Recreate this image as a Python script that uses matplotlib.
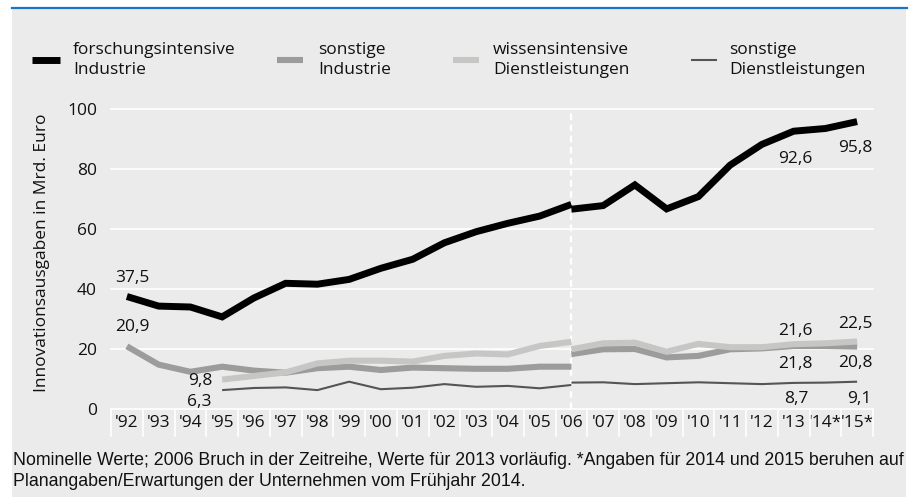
import matplotlib
matplotlib.use("Agg")
import matplotlib.pyplot as plt
import matplotlib.transforms as mtransforms
from matplotlib.lines import Line2D
from matplotlib.patches import Rectangle
from matplotlib import font_manager

# --- data (Mrd. Euro), series break in 2006 ---
years_old = list(range(1992, 2007))
years_new = list(range(2006, 2016))
years_dl_old = list(range(1995, 2007))

forsch_old = [37.5, 34.3, 34.0, 30.7, 37.0, 41.9, 41.6, 43.2, 46.9, 49.9, 55.4, 59.1, 61.9, 64.3, 68.2]
forsch_new = [66.6, 67.8, 74.7, 66.7, 70.8, 81.3, 88.2, 92.6, 93.5, 95.8]
sonst_ind_old = [20.9, 14.8, 12.4, 14.1, 12.8, 12.1, 13.6, 14.1, 13.0, 13.8, 13.6, 13.4, 13.4, 14.1, 14.1]
sonst_ind_new = [18.3, 19.9, 20.0, 17.2, 17.7, 19.9, 20.2, 21.0, 21.0, 20.8]
wiss_old = [9.8, 11.0, 12.2, 15.2, 16.1, 16.1, 15.8, 17.7, 18.5, 18.2, 21.0, 22.4]
wiss_new = [19.9, 21.9, 22.1, 19.1, 21.7, 20.6, 20.6, 21.6, 21.9, 22.5]
sonst_dl_old = [6.3, 7.0, 7.2, 6.3, 9.1, 6.6, 7.1, 8.3, 7.4, 7.7, 6.9, 8.0]
sonst_dl_new = [8.8, 8.9, 8.3, 8.6, 8.9, 8.6, 8.3, 8.7, 8.8, 9.1]

tick_years = list(range(1992, 2016))
tick_labels = ["'%02d" % (y % 100) for y in range(1992, 2014)] + ["'14*", "'15*"]

legend_labels = ["forschungsintensive\nIndustrie", "sonstige\nIndustrie",
                 "wissensintensive\nDienstleistungen", "sonstige\nDienstleistungen"]
colors = ["#000000", "#9c9c9c", "#c6c7c5", "#555555"]
widths = [5.0, 4.4, 4.4, 1.5]

footnote = ("Nominelle Werte; 2006 Bruch in der Zeitreihe, Werte für 2013 vorläufig. "
            "*Angaben für 2014 und 2015 beruhen auf\n"
            "Planangaben/Erwartungen der Unternehmen vom Frühjahr 2014.")

installed = {f.name for f in font_manager.fontManager.ttflist}
main_font = "Open Sans" if "Open Sans" in installed else "DejaVu Sans"
narrow_font = "Liberation Sans Narrow" if "Liberation Sans Narrow" in installed else "Liberation Sans"
plt.rcParams['font.family'] = [main_font, 'DejaVu Sans']

bg = "#ebebeb"
W, H = 909, 500
fig = plt.figure(figsize=(W / 100, H / 100), dpi=100)
fig.patch.set_facecolor("white")
fig.add_artist(Rectangle((12 / W, 3 / H), (906 - 12) / W, (492 - 3) / H,
                         transform=fig.transFigure, facecolor=bg, edgecolor="none", zorder=-10))
fig.add_artist(Line2D([12 / W, 907 / W], [1 - 7.5 / H, 1 - 7.5 / H], transform=fig.transFigure,
                      color="#1b76c2", lw=1.6))

ax = fig.add_axes([111 / W, 1 - 409 / H, (873 - 111) / W, 300 / H])
ax.set_facecolor("none")
for s in ax.spines.values():
    s.set_visible(False)
ax.set_xlim(1991.5, 2015.5)
ax.set_ylim(0, 100)

# grid
for yv in [0, 20, 40, 60, 80, 100]:
    ax.axhline(yv, color="white", lw=1.2, zorder=1, clip_on=False)
ax.axvline(2006, color="white", lw=1.6, ls=(0, (3, 2)), zorder=1)

# label cell separators below axis
trans = mtransforms.blended_transform_factory(ax.transData, ax.transAxes)
for y in tick_years + [tick_years[-1] + 1]:
    ax.plot([y - 0.5, y - 0.5], [0, -0.09], transform=trans, color="white", lw=1.2, clip_on=False)

series = [
    (years_old, forsch_old, years_new, forsch_new),
    (years_old, sonst_ind_old, years_new, sonst_ind_new),
    (years_dl_old, wiss_old, years_new, wiss_new),
    (years_dl_old, sonst_dl_old, years_new, sonst_dl_new),
]
for i, (xo, yo, xn, yn) in enumerate(series):
    for xx, yy in [(xo, yo), (xn, yn)]:
        ax.plot(xx, yy, color=colors[i], lw=widths[i], solid_joinstyle="miter",
                solid_capstyle="butt", zorder=3 + (i == 0), clip_on=False)

# value labels
fs = 12.5
def lab(x, y, text, dx, dy):
    ax.annotate(text, (x, y), xytext=(dx * 0.72, dy * 0.72), textcoords="offset points",
                ha="center", va="center", fontsize=fs, color="#111111", zorder=6)

lab(1992, forsch_old[0], "37,5", 5, 18)
lab(1992, sonst_ind_old[0], "20,9", 5, 19)
lab(1995, wiss_old[0], "9,8", -22, -1)
lab(1995, sonst_dl_old[0], "6,3", -23, -12)
lab(2013, forsch_new[7], "92,6", 2, -28)
lab(2015, forsch_new[9], "95,8", -2, -26)
lab(2013, wiss_new[7], "21,6", 2, 13)
lab(2015, wiss_new[9], "22,5", -2, 17)
lab(2013, sonst_ind_new[7], "21,8", 2, -18)
lab(2015, sonst_ind_new[9], "20,8", -2, -16)
lab(2013, sonst_dl_new[7], "8,7", 3, -16)
lab(2015, sonst_dl_new[9], "9,1", 2, -17)

ax.set_xticks(tick_years)
ax.set_xticklabels(tick_labels, fontsize=fs, color="#111111")
ax.set_yticks([0, 20, 40, 60, 80, 100])
ax.set_yticklabels(["0", "20", "40", "60", "80", "100"], fontsize=fs, color="#111111")
ax.tick_params(axis="both", length=0)
ax.tick_params(axis="x", pad=4)
ax.tick_params(axis="y", pad=10)

fig.text(42 / W, 1 - 253 / H, "Innovationsausgaben in Mrd. Euro", rotation=90,
         ha="center", va="center", fontsize=fs, color="#111111")

# legend
handles_x = [(32, 60), (277, 303), (453, 479), (691, 717)]
text_x = [73, 318, 493, 729]
for i in range(4):
    x0, x1 = handles_x[i]
    fig.add_artist(Line2D([x0 / W, x1 / W], [1 - 60 / H, 1 - 60 / H], transform=fig.transFigure,
                          color=colors[i], lw=widths[i], solid_capstyle="butt"))
    fig.text(text_x[i] / W, 1 - 60 / H, legend_labels[i], ha="left", va="center",
             fontsize=fs, linespacing=1.25, color="#111111")

fn = fig.text(13 / W, 1 - 471 / H, footnote, ha="left", va="center", fontsize=11,
              family=[narrow_font, "DejaVu Sans"], linespacing=1.35, color="#111111")
fig.canvas.draw()
w = fn.get_window_extent().width
fn.set_fontsize(11 * 888 / w)

fig.savefig("out.png", dpi=100, facecolor=fig.get_facecolor())
